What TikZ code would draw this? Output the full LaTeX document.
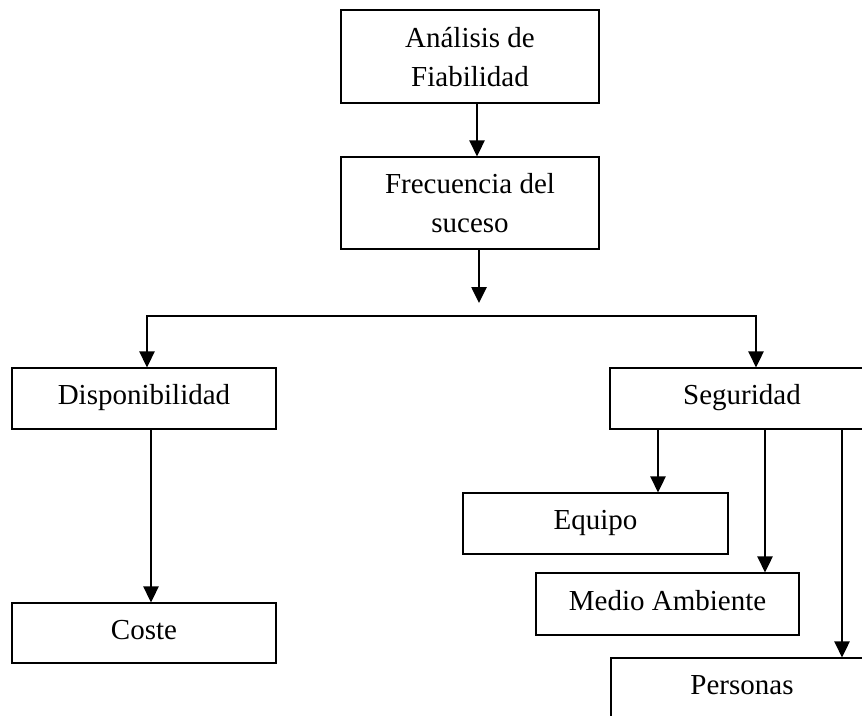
\documentclass[tikz,border=0pt]{standalone}
\usepackage{fontspec}
\setmainfont{Liberation Serif}
\usetikzlibrary{arrows.meta}
\begin{document}
\begin{tikzpicture}[x=1pt,y=-1pt,
  box/.style={draw=black,line width=1.1pt,inner sep=0pt,
    font=\fontsize{29}{39}\selectfont,text height=20pt,text depth=8pt},
  twobox/.style={box,text height=20pt,text depth=39pt},
  arr/.style={line width=2.6pt,-{Triangle[length=16pt,width=15pt]}},
  arrb/.style={line width=2.6pt,{Triangle[length=16pt,width=15pt]}-{Triangle[length=16pt,width=15pt]}}]
\useasboundingbox (0,0) rectangle (862,715);
\clip (0,0) rectangle (862,715);
\fill[white] (0,0) rectangle (862,715);
% nodes
\node[twobox,minimum width=258pt,minimum height=93pt] (ana) at (470,56.5)
  {\parbox[t]{240pt}{\centering Análisis de\\Fiabilidad}};
\node[twobox,minimum width=258pt,minimum height=92pt] (fre) at (470,203)
  {\parbox[t]{240pt}{\centering Frecuencia del\\suceso}};
\node[box,minimum width=264pt,minimum height=61pt] (dis) at (144,398.5) {Disponibilidad};
\node[box,minimum width=264pt,minimum height=60pt] (cos) at (144,633) {Coste};
\node[box,minimum width=264pt,minimum height=61pt] (seg) at (742,398.5) {Seguridad};
\node[box,minimum width=265pt,minimum height=61pt] (equ) at (595.5,523.5) {Equipo};
\node[box,minimum width=263pt,minimum height=62pt] (med) at (667.5,604) {Medio Ambiente};
\node[box,minimum width=262pt,minimum height=61pt] (per) at (742,688.5) {Personas};
% coordinates
\coordinate (ft) at (479,303);
\coordinate (hl) at (147,316);
\coordinate (hr) at (756,316);
\coordinate (e1) at (658,0);
\coordinate (m1) at (765,0);
\coordinate (p1) at (842,0);
% connectors
\draw[arr] ([xshift=7pt]ana.south) -- ([xshift=7pt]fre.north);
\draw[arr] (fre.south -| ft) -- (ft);
\draw[arrb] (hl |- dis.north) -- (hl) -- (hr) -- (hr |- seg.north);
\draw[arr] ([xshift=7pt]dis.south) -- ([xshift=7pt]cos.north);
\draw[arr] (seg.south -| e1) -- (equ.north -| e1);
\draw[arr] (seg.south -| m1) -- (med.north -| m1);
\draw[arr] (seg.south -| p1) -- (per.north -| p1);
\end{tikzpicture}
\end{document}
